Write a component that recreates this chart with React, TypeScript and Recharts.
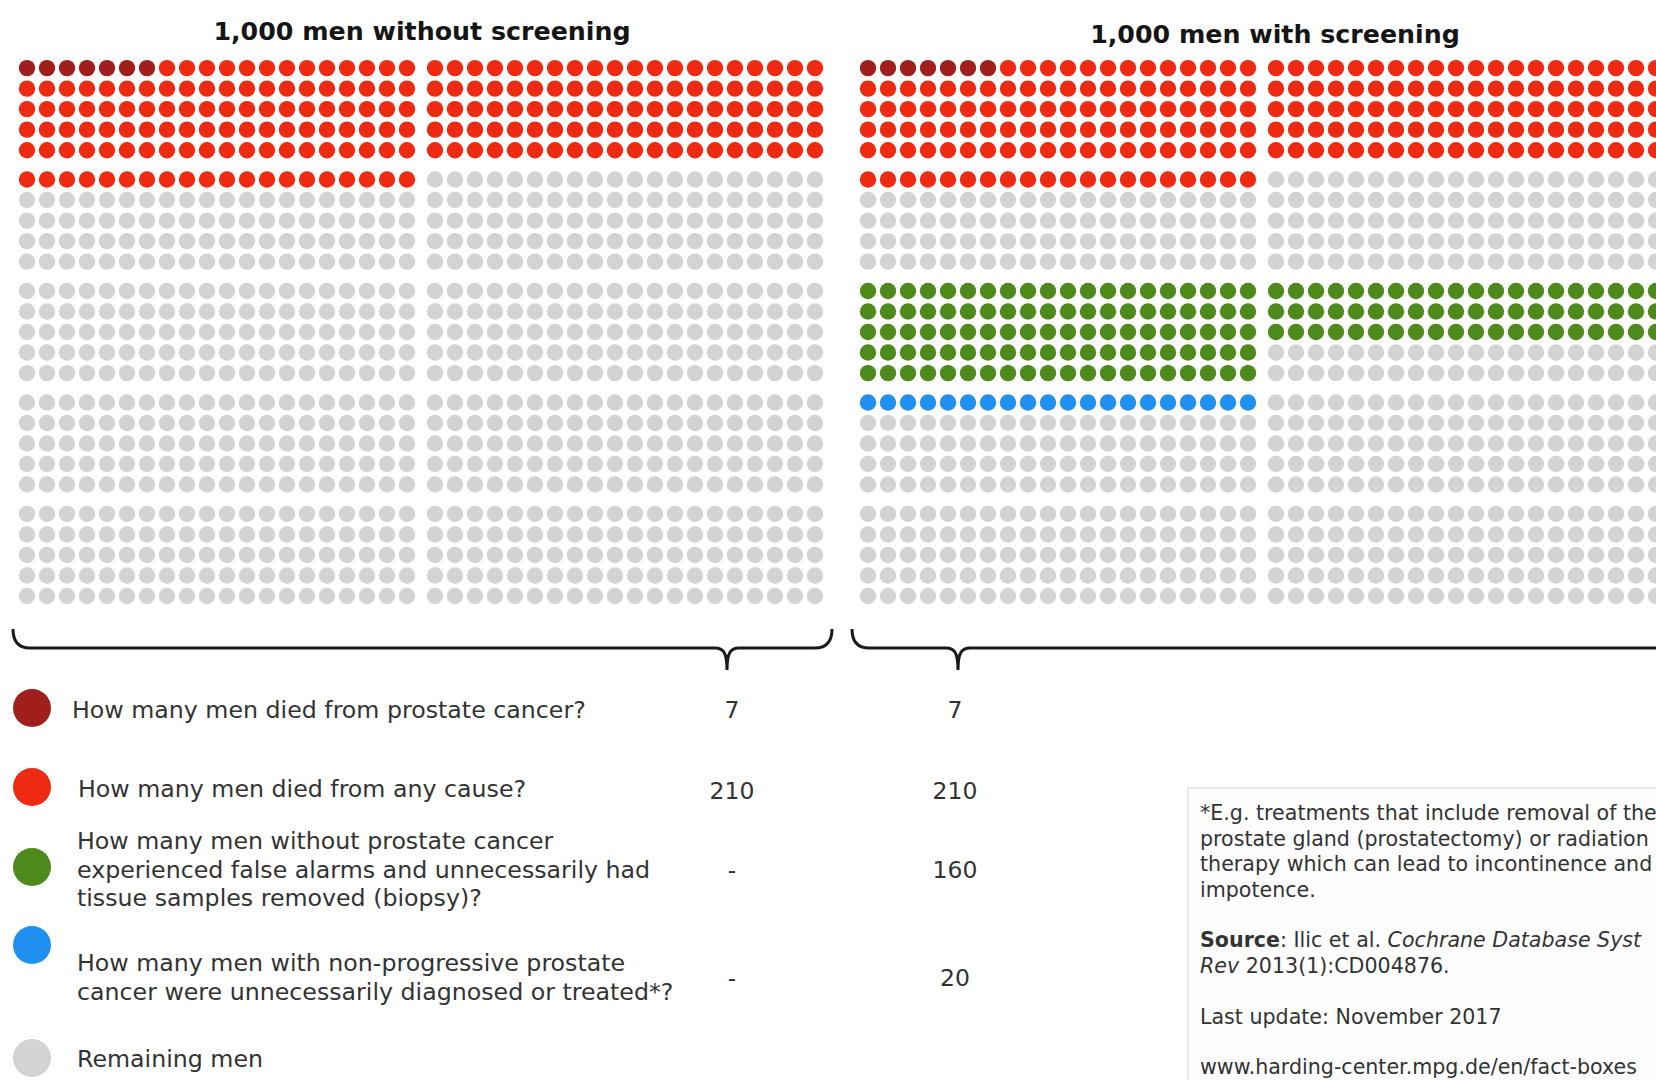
import { Scatter, ScatterChart, XAxis, YAxis } from 'recharts';

// ---- data ----------------------------------------------------------------
const PANEL_TITLES = ['1,000 men without screening', '1,000 men with screening'];
// dots drawn per panel, in fill order
const PROSTATE_DEATHS = [7, 7]; // dark red
const OTHER_DEATH_DOTS = [213, 213]; // red, following the dark red ones
const FALSE_ALARMS = [0, 160]; // green
const OVERDIAGNOSED = [0, 20]; // blue
// band (block of 5 rows) where each group starts
const START_BAND = { deaths: 0, falseAlarms: 2, overdiagnosed: 3 };

const QUESTIONS = [
  ['How many men died from prostate cancer?'],
  ['How many men died from any cause?'],
  [
    'How many men without prostate cancer',
    'experienced false alarms and unnecessarily had',
    'tissue samples removed (biopsy)?',
  ],
  ['How many men with non-progressive prostate', 'cancer were unnecessarily diagnosed or treated*?'],
  ['Remaining men'],
];
const VALUES_WITHOUT = ['7', '210', '-', '-'];
const VALUES_WITH = ['7', '210', '160', '20'];

const COLORS = {
  prostate: '#a01f1c',
  anyCause: '#ef2a12',
  falseAlarm: '#4f8a1c',
  overdiag: '#1f8ff0',
  rest: '#d3d3d3',
};
type Cat = keyof typeof COLORS;
const LEGEND_CATS: Cat[] = ['prostate', 'anyCause', 'falseAlarm', 'overdiag', 'rest'];

// ---- grid layout ----------------------------------------------------------
const PER_PANEL = 1000;
const PER_BAND = 200;
const H_GAP = 0.4; // extra gap between the two 20-wide halves (in dot pitches)
const V_GAP = 0.43; // extra gap between bands
const PANEL_SHIFT = 42.05;

type Dot = { x: number; y: number };

function buildDots() {
  const groups: Record<Cat, Dot[]> = {
    prostate: [],
    anyCause: [],
    falseAlarm: [],
    overdiag: [],
    rest: [],
  };
  PANEL_TITLES.forEach((_, p) => {
    const cats: Cat[] = new Array(PER_PANEL).fill('rest');
    const put = (from: number, n: number, c: Cat) => {
      for (let i = 0; i < n; i++) cats[from + i] = c;
    };
    const d0 = START_BAND.deaths * PER_BAND;
    put(d0, PROSTATE_DEATHS[p], 'prostate');
    put(d0 + PROSTATE_DEATHS[p], OTHER_DEATH_DOTS[p], 'anyCause');
    put(START_BAND.falseAlarms * PER_BAND, FALSE_ALARMS[p], 'falseAlarm');
    put(START_BAND.overdiagnosed * PER_BAND, OVERDIAGNOSED[p], 'overdiag');
    cats.forEach((c, i) => {
      const band = Math.floor(i / PER_BAND);
      const half = Math.floor((i % PER_BAND) / 100);
      const row = Math.floor((i % 100) / 20);
      const col = i % 20;
      groups[c].push({
        x: p * PANEL_SHIFT + half * (20 + H_GAP) + col,
        y: band * (5 + V_GAP) + row,
      });
    });
  });
  return groups;
}

const dotShape = (fill: string) => (props: any) =>
  <circle cx={props.cx} cy={props.cy} r={8.2} fill={fill} />;

const FONT = '"DejaVu Sans", Verdana, sans-serif';

export default function App() {
  const groups = buildDots();
  const legendY = [708, 787, 867, 945, 1058];
  const textX = [72, 78, 77, 77, 77];
  const firstBaseline = [718, 797, 849, 971, 1067];
  const valueBaseline = [718, 799, 878, 986];

  return (
    <div style={{ position: 'absolute', left: 0, top: 0, width: 1656, height: 1080, background: '#fff', overflow: 'hidden' }}>
      <ScatterChart width={1656} height={1080} margin={{ top: 0, right: 0, bottom: 0, left: 0 }}>
        <XAxis type="number" dataKey="x" hide domain={[-1.35, 81.45]} allowDataOverflow />
        <YAxis type="number" dataKey="y" hide reversed domain={[-3.317, 49.3]} allowDataOverflow />
        {(Object.keys(groups) as Cat[]).map((c) => (
          <Scatter
            key={c}
            data={groups[c]}
            fill={COLORS[c]}
            shape={dotShape(COLORS[c])}
            isAnimationActive={false}
          />
        ))}
      </ScatterChart>

      <svg
        width={1656}
        height={1080}
        style={{ position: 'absolute', left: 0, top: 0, pointerEvents: 'none', fontFamily: FONT }}
      >
        <text x={422} y={40} textAnchor="middle" fontSize={25.3} fontWeight="bold" fill="#151515">
          {PANEL_TITLES[0]}
        </text>
        <text x={1275} y={43} textAnchor="middle" fontSize={25.3} fontWeight="bold" fill="#151515">
          {PANEL_TITLES[1]}
        </text>

        {/* braces */}
        <path
          d="M13 629 Q13 648 30 648 L715 648 C723 648 727 652 727 670 C727 652 731 648 739 648 L815 648 Q832 648 832 629"
          fill="none"
          stroke="#1a1a1a"
          strokeWidth={3}
        />
        <path
          d="M852 629 Q852 648 869 648 L946 648 C954 648 958 652 958 670 C958 652 962 648 970 648 L1700 648"
          fill="none"
          stroke="#1a1a1a"
          strokeWidth={3}
        />

        {/* legend */}
        {LEGEND_CATS.map((c, i) => (
          <g key={c}>
            <circle cx={32} cy={legendY[i]} r={19} fill={COLORS[c]} />
            {QUESTIONS[i].map((line, j) => (
              <text key={j} x={textX[i]} y={firstBaseline[i] + j * 28.5} fontSize={23.7} fill="#333">
                {line}
              </text>
            ))}
          </g>
        ))}
        {VALUES_WITHOUT.map((v, i) => (
          <text key={'l' + i} x={732} y={valueBaseline[i]} textAnchor="middle" fontSize={23.5} fill="#333">
            {v}
          </text>
        ))}
        {VALUES_WITH.map((v, i) => (
          <text key={'r' + i} x={955} y={valueBaseline[i]} textAnchor="middle" fontSize={23.5} fill="#333">
            {v}
          </text>
        ))}

        {/* footnote box */}
        <rect x={1188} y={788} width={600} height={400} fill="#fdfdfd" stroke="#e4e4e4" strokeWidth={1.5} />
        <g fontSize={20.6} fill="#333">
          <text x={1200} y={820}>*E.g. treatments that include removal of the</text>
          <text x={1200} y={845.5}>prostate gland (prostatectomy) or radiation</text>
          <text x={1200} y={871}>therapy which can lead to incontinence and</text>
          <text x={1200} y={896.5}>impotence.</text>
          <text x={1200} y={947}>
            <tspan fontWeight="bold">Source</tspan>
            <tspan>: Ilic et al. </tspan>
            <tspan fontStyle="italic">Cochrane Database Syst</tspan>
          </text>
          <text x={1200} y={972.5}>
            <tspan fontStyle="italic">Rev</tspan>
            <tspan> 2013(1):CD004876.</tspan>
          </text>
          <text x={1200} y={1024}>Last update: November 2017</text>
          <text x={1200} y={1074}>www.harding-center.mpg.de/en/fact-boxes</text>
        </g>
      </svg>
    </div>
  );
}
